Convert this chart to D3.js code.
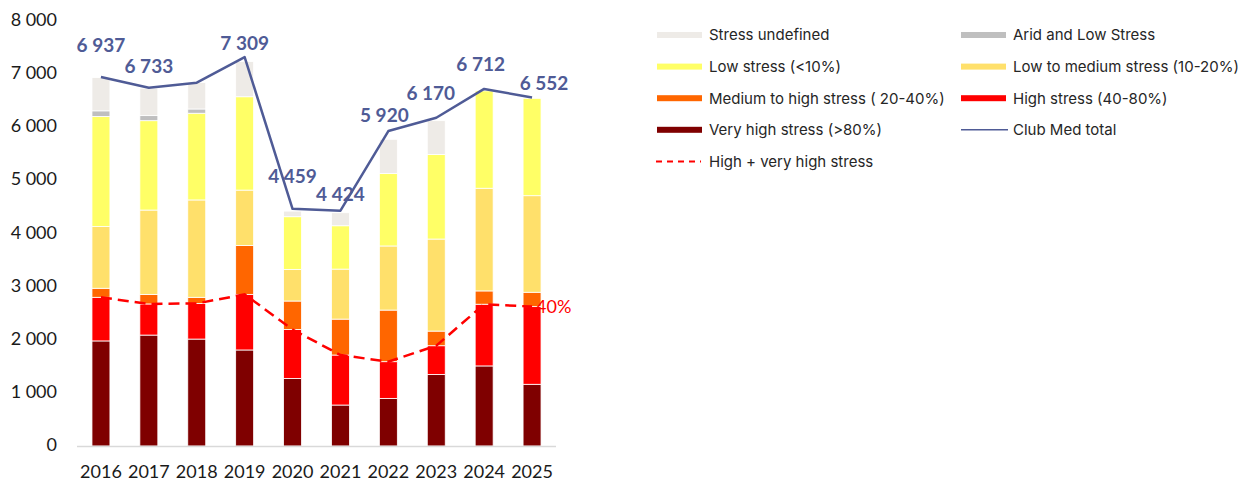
<!DOCTYPE html>
<html>
<head>
<meta charset="utf-8">
<script src="https://cdn.jsdelivr.net/npm/d3@7"></script>
<style>
  html, body { margin: 0; padding: 0; background: #ffffff; }
  svg { display: block; }
</style>
</head>
<body>
<svg id="chart" width="1247" height="483"></svg>
<script>
// ---------------- DATA ----------------
const years = ["2016","2017","2018","2019","2020","2021","2022","2023","2024","2025"];
const veryHigh   = [1975, 2085, 2010, 1805, 1270, 770, 895, 1345, 1505, 1160];
const high       = [ 820,  585,  670, 1045,  920, 940, 690,  540, 1160, 1460];
const medHigh    = [ 170,  180,  115,  920,  535, 675, 970,  275,  250,  270];
const lowMed     = [1160, 1585, 1830, 1040,  595, 940, 1205, 1730, 1930, 1815];
const low        = [2070, 1680, 1630, 1755,  990, 815, 1365, 1590, 1830, 1830];
const arid       = [ 105,   95,   80,    0,    0,   0,    0,    0,    0,    0];
const undef      = [ 625,  515,  495,  660,  105, 245,  640,  635,    0,    0];
const clubMedTotal = [6937, 6733, 6830, 7309, 4459, 4424, 5920, 6170, 6712, 6552];
const totalLabelShown = [true, true, false, true, true, true, true, true, true, true];
const yTicks = [0, 1000, 2000, 3000, 4000, 5000, 6000, 7000, 8000];
const endLabel = "40%";

const seriesNames = [
  "Very high stress (>80%)",
  "High stress (40-80%)",
  "Medium to high stress ( 20-40%)",
  "Low to medium stress (10-20%)",
  "Low stress (<10%)",
  "Arid and Low Stress",
  "Stress undefined"
];
const seriesValues = [veryHigh, high, medHigh, lowMed, low, arid, undef];
const seriesKeys = ["vh","h","mh","lm","l","a","u"];

// ---------------- STYLE / LAYOUT ----------------
const colors = {
  vh: "#7F0000", h: "#FF0000", mh: "#FF6600", lm: "#FFE06B",
  l: "#FFFF66", a: "#BFBFBF", u: "#EEEBE7"
};
const lineColor = "#4F5B96";
const dashColor = "#FF0000";
const labelFont = "Lato, 'Open Sans', sans-serif";
const legendFont = "Inter, 'Noto Sans', sans-serif";

// label offsets (pixels) relative to each line point, manual placements as in reference
const labelOffsets = [[0,-32],[0,-22],[0,0],[0,-14.5],[0,-33],[0,-16.5],[-4,-15.5],[-5.5,-24.5],[-3.5,-25],[12,-14]];

const svg = d3.select("#chart");
const fmt = d3.formatLocale({decimal: ".", thousands: " ", grouping: [3], currency: ["", ""]}).format(",d");

const x = d3.scaleBand().domain(years).range([77, 556]).paddingInner(0.625).paddingOuter(0.3125);
const y = d3.scaleLinear().domain([0, 8000]).range([446, 20.4]);
const cx = d => x(d) + x.bandwidth() / 2;

// table for stacking
const table = years.map((yr, i) => {
  const o = {year: yr};
  seriesKeys.forEach((k, s) => o[k] = seriesValues[s][i]);
  return o;
});
const stack = d3.stack().keys(seriesKeys)(table);

// bars
const g = svg.append("g");
stack.forEach(layer => {
  g.append("g").selectAll("rect").data(layer).join("rect")
    .attr("x", d => x(d.data.year))
    .attr("width", x.bandwidth())
    .attr("y", d => y(d[1]))
    .attr("height", d => Math.max(0, y(d[0]) - y(d[1])))
    .attr("fill", colors[layer.key])
    .attr("stroke", "#ffffff")
    .attr("stroke-width", 0.8)
    .attr("display", d => (d[1] - d[0]) > 0 ? null : "none");
});

// x axis baseline
svg.append("line")
  .attr("x1", 77).attr("x2", 556)
  .attr("y1", y(0) + 0.5).attr("y2", y(0) + 0.5)
  .attr("stroke", "#D9D9D9").attr("stroke-width", 1.5);

// y tick labels
svg.append("g").selectAll("text").data(yTicks).join("text")
  .attr("x", 57).attr("y", d => y(d)).attr("dy", "0.3em")
  .attr("text-anchor", "end")
  .attr("font-family", labelFont).attr("font-size", 18).attr("fill", "#1a1a1a")
  .text(d => fmt(d));

// x labels
svg.append("g").selectAll("text").data(years).join("text")
  .attr("x", d => cx(d)).attr("y", 478)
  .attr("text-anchor", "middle")
  .attr("font-family", labelFont).attr("font-size", 18).attr("fill", "#1a1a1a")
  .text(d => d);

// High + very high dashed line (sum of two series)
const hvh = years.map((yr, i) => veryHigh[i] + high[i]);
svg.append("path")
  .datum(hvh)
  .attr("fill", "none").attr("stroke", dashColor).attr("stroke-width", 2.5)
  .attr("stroke-dasharray", "11,6")
  .attr("d", d3.line().x((d, i) => cx(years[i])).y(d => y(d)));

svg.append("text")
  .attr("x", cx(years[9]) + 4).attr("y", y(hvh[9]))
  .attr("dy", "0.35em")
  .attr("font-family", labelFont).attr("font-size", 18).attr("fill", dashColor)
  .text(endLabel);

// Club Med total line
svg.append("path")
  .datum(clubMedTotal)
  .attr("fill", "none").attr("stroke", lineColor).attr("stroke-width", 2.5)
  .attr("stroke-linejoin", "round")
  .attr("d", d3.line().x((d, i) => cx(years[i])).y(d => y(d)));

const labelData = clubMedTotal.map((v, i) => ({v, i})).filter(d => totalLabelShown[d.i]);
svg.append("g").selectAll("text").data(labelData).join("text")
  .attr("x", d => cx(years[d.i]) + labelOffsets[d.i][0])
  .attr("y", d => y(d.v) + labelOffsets[d.i][1])
  .attr("dy", "0.36em")
  .attr("text-anchor", "middle")
  .attr("font-family", labelFont).attr("font-size", 19).attr("font-weight", "bold")
  .attr("fill", lineColor)
  .text(d => fmt(d.v));

// legend
const legendItems = [
  {name: seriesNames[6], type: "bar", color: colors.u},
  {name: seriesNames[5], type: "bar", color: colors.a},
  {name: seriesNames[4], type: "bar", color: colors.l},
  {name: seriesNames[3], type: "bar", color: colors.lm},
  {name: seriesNames[2], type: "bar", color: colors.mh},
  {name: seriesNames[1], type: "bar", color: colors.h},
  {name: seriesNames[0], type: "bar", color: colors.vh},
  {name: "Club Med total", type: "line", color: lineColor},
  {name: "High + very high stress", type: "dash", color: dashColor}
];
const colX = [657, 961];
const rowY0 = 35, rowStep = 31.6;
const lg = svg.append("g");
legendItems.forEach((it, i) => {
  const col = i % 2, row = Math.floor(i / 2);
  const lx = colX[col], ly = rowY0 + row * rowStep;
  if (it.type === "bar") {
    lg.append("rect").attr("x", lx).attr("y", ly - 3).attr("width", 45).attr("height", 6).attr("fill", it.color);
  } else if (it.type === "line") {
    lg.append("line").attr("x1", lx).attr("x2", lx + 47).attr("y1", ly).attr("y2", ly)
      .attr("stroke", it.color).attr("stroke-width", 1.5);
  } else {
    lg.append("line").attr("x1", lx - 1).attr("x2", lx + 44).attr("y1", ly).attr("y2", ly)
      .attr("stroke", it.color).attr("stroke-width", 2).attr("stroke-dasharray", "6,5");
  }
  lg.append("text").attr("x", lx + 52).attr("y", ly).attr("dy", "0.36em")
    .attr("font-family", legendFont).attr("font-size", 15).attr("fill", "#262626")
    .text(it.name);
});
</script>
</body>
</html>
